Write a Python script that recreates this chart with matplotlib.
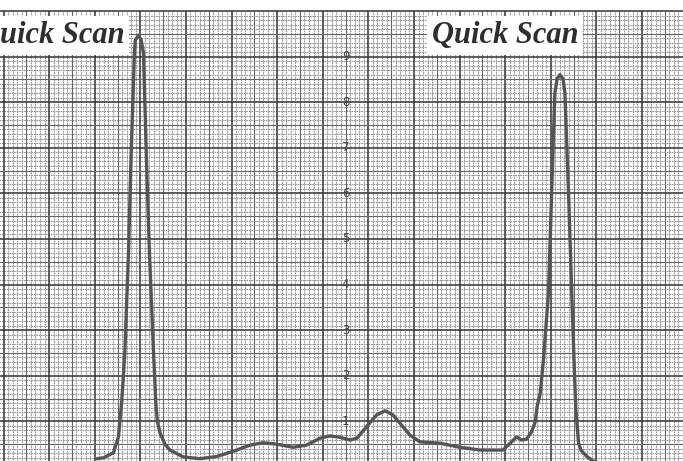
import numpy as np
import matplotlib
matplotlib.use('Agg')
import matplotlib.pyplot as plt

# trace (x in major divisions, y in chart units 0-10)
trace_x = [2.05, 2.19, 2.41, 2.52, 2.59, 2.66, 2.74, 2.80, 2.87, 2.89, 2.96, 3.02,
           3.07, 3.13, 3.20, 3.29, 3.34, 3.37, 3.43, 3.54, 3.65, 3.94, 4.31, 4.68,
           5.03, 5.41, 5.69, 5.99, 6.35, 6.65, 6.94, 7.16, 7.38, 7.60, 7.75, 7.96,
           8.18, 8.37, 8.54, 8.76, 8.91, 9.13, 9.57, 10.01, 10.45, 10.95, 11.11,
           11.25, 11.36, 11.47, 11.58, 11.66, 11.70, 11.77, 11.84, 11.95, 12.02,
           12.09, 12.14, 12.20, 12.27, 12.31, 12.39, 12.46, 12.51, 12.55, 12.61,
           12.66, 12.79, 12.93, 13.08]
trace_y = [0.18, 0.20, 0.31, 0.66, 1.40, 2.50, 4.69, 6.89, 9.07, 9.36, 9.47, 9.36,
           9.07, 6.89, 4.69, 2.50, 1.40, 1.03, 0.75, 0.50, 0.37, 0.22, 0.18, 0.23,
           0.34, 0.48, 0.53, 0.50, 0.43, 0.48, 0.63, 0.68, 0.65, 0.59, 0.63, 0.88,
           1.14, 1.23, 1.14, 0.88, 0.70, 0.55, 0.52, 0.43, 0.37, 0.37, 0.52, 0.66,
           0.59, 0.61, 0.77, 0.99, 1.32, 1.62, 2.35, 3.82, 6.01, 8.20, 8.51, 8.60,
           8.51, 8.20, 6.01, 3.82, 2.35, 1.25, 0.53, 0.37, 0.23, 0.13, 0.09]

scale_labels = ['1', '2', '3', '4', '5', '6', '7', '8', '9']
scale_values = [1, 2, 3, 4, 5, 6, 7, 8, 9]
banner_text = 'Quick Scan'

fig = plt.figure(figsize=(6.83, 4.61), dpi=100)
ax = fig.add_axes([0, 0, 1, 1])
ax.set_xlim(-0.077, 14.9)
ax.set_ylim(0.13, 10.24)
ax.axis('off')

top = 10.0

# chart paper grid: fine lines every 0.1, medium every 0.5, heavy every 1
for k in range(0, 150):
    x = k / 10
    if k % 10 == 0:
        ax.vlines(x, 0, top, color='#333333', lw=1.1, zorder=1)
    elif k % 5 == 0:
        ax.vlines(x, 0, top, color='#666666', lw=0.8, zorder=1)
    else:
        ax.vlines(x, 0, top, color='#959595', lw=0.8, linestyles=(0, (1.5, 0.7)), zorder=0)
for k in range(1, 101):
    y = k / 10
    if k % 10 == 0:
        ax.hlines(y, -0.1, 15, color='#333333', lw=1.1, zorder=1)
    elif k % 5 == 0:
        ax.hlines(y, -0.1, 15, color='#666666', lw=0.8, zorder=1)
    else:
        ax.hlines(y, -0.1, 15, color='#959595', lw=0.8, linestyles=(0, (1.5, 0.7)), zorder=0)

# scale numbers printed down the middle of the paper
for lab, v in zip(scale_labels, scale_values):
    ax.text(7.5, v, lab, ha='center', va='center', fontsize=8.5, color='#444444',
            zorder=2)

# recorder pen trace
ax.plot(trace_x, trace_y, color='#555555', lw=2.4, solid_capstyle='round',
        solid_joinstyle='round', zorder=4)

# "Quick Scan" banners (left one runs off the paper edge, as on the scan)
for bx in [-0.56, 9.39]:
    ax.text(bx, 9.30, banner_text, ha='left', va='baseline', fontsize=22,
            family='Liberation Serif', style='italic', weight='bold',
            color='#2e2e2e', zorder=6,
            bbox=dict(facecolor='white', edgecolor='none', pad=3.5))

fig.savefig('out.png', dpi=100)
